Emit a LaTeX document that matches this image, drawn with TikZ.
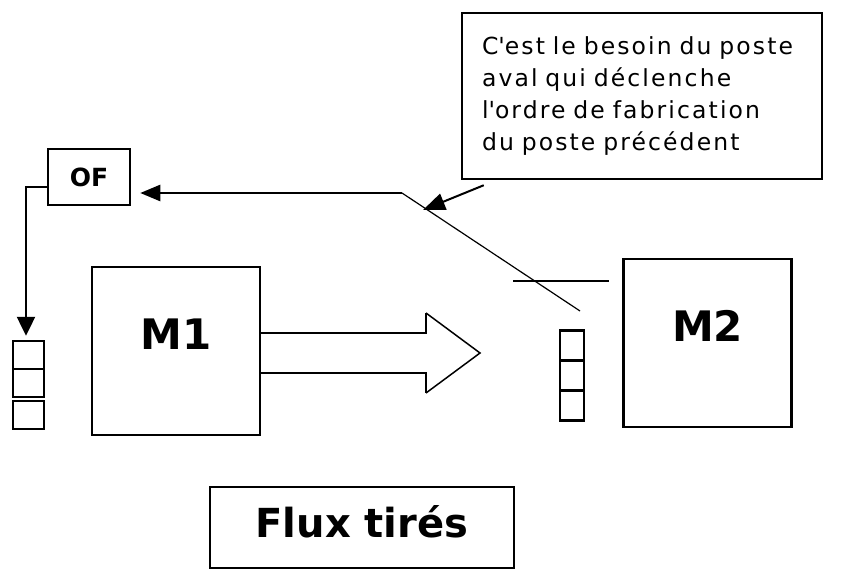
\documentclass[tikz,border=0pt]{standalone}
\usepackage{fontspec}
\setmainfont{DejaVu Sans}
\newfontfamily\notefont[LetterSpace=9]{DejaVu Sans}
\usetikzlibrary{arrows.meta}
\usetikzlibrary{positioning}

\tikzset{
    box/.style={draw, line width=2.5pt, inner sep=0pt},
    machine/.style={box, minimum width=168pt, minimum height=168pt},
    mlabel/.style={font=\bfseries\fontsize{42}{42}\selectfont, inner sep=0pt},
    stockL/.style={box, minimum width=31pt, minimum height=28pt},
    stockR/.style={box, minimum width=24pt, minimum height=30pt},
    pull/.style={-{Triangle[length=20pt,width=16pt]}},
}

\begin{document}
\begin{tikzpicture}[x=1pt, y=-1pt]
    \useasboundingbox (0,0) rectangle (848,588);

    \node[box, minimum width=360pt, minimum height=166pt, text width=320pt, inner xsep=20pt, align=left,
        font=\notefont\fontsize{23.5}{32}\selectfont] (note) at (642,96)
        {C\textquotesingle est le besoin du poste\\aval qui déclenche\\l\textquotesingle ordre de fabrication\\du poste précédent};

    \node[box, minimum width=82pt, minimum height=56pt, font=\bfseries\fontsize{25}{25}\selectfont] (of) at (89,177) {OF};

    \node[machine] (m1) at (176,351) {};
    \node[mlabel] at ([yshift=17pt]m1.center) {M1};
    \node[machine] (m2) at (707.5,343) {};
    \node[mlabel] at ([yshift=17pt]m2.center) {M2};

    % stocks
    \foreach \i/\y in {1/355,2/383,3/415}
        \node[stockL] (left\i) at (28.5,\y) {};
    \foreach \i/\y in {1/345.5,2/375,3/405.5}
        \node[stockR] (right\i) at (572,\y) {};

    % flow M1
    \draw[line width=2.5pt] (m1.east |- 0,333) -- (426,333) -- (426,313);
    \draw[line width=1.5pt] (426,313) -- (480,353) -- (426,393);
    \draw[line width=2.5pt] (426,393) -- (426,373) -- (m1.east |- 0,373);

    % pull signal
    \coordinate (kanban) at (580,311);
    \coordinate (knee) at (402,193);
    \draw[line width=1.2pt] (kanban) -- (knee);
    \draw[line width=2.5pt, pull, shorten >=9pt] (knee) -- (knee -| of.east);
    \draw[line width=2pt] (513,281) -- (609,281);
    \draw[line width=2pt, -{Triangle[length=22pt,width=17pt]}] ([xshift=23pt,yshift=-5pt]note.south west) -- (423,210);
    \draw[line width=2.5pt, -{Triangle[length=19pt,width=18pt]}] ([yshift=-10pt]of.west) -| ([xshift=-2.5pt,yshift=4pt]left1.north);

    \node[box, minimum width=304pt, minimum height=81pt] (flux) at (362,527.5) {};
    \node[font=\bfseries\fontsize{40}{40}\selectfont] at ([yshift=6pt]flux.center) {Flux tirés};
\end{tikzpicture}
\end{document}
